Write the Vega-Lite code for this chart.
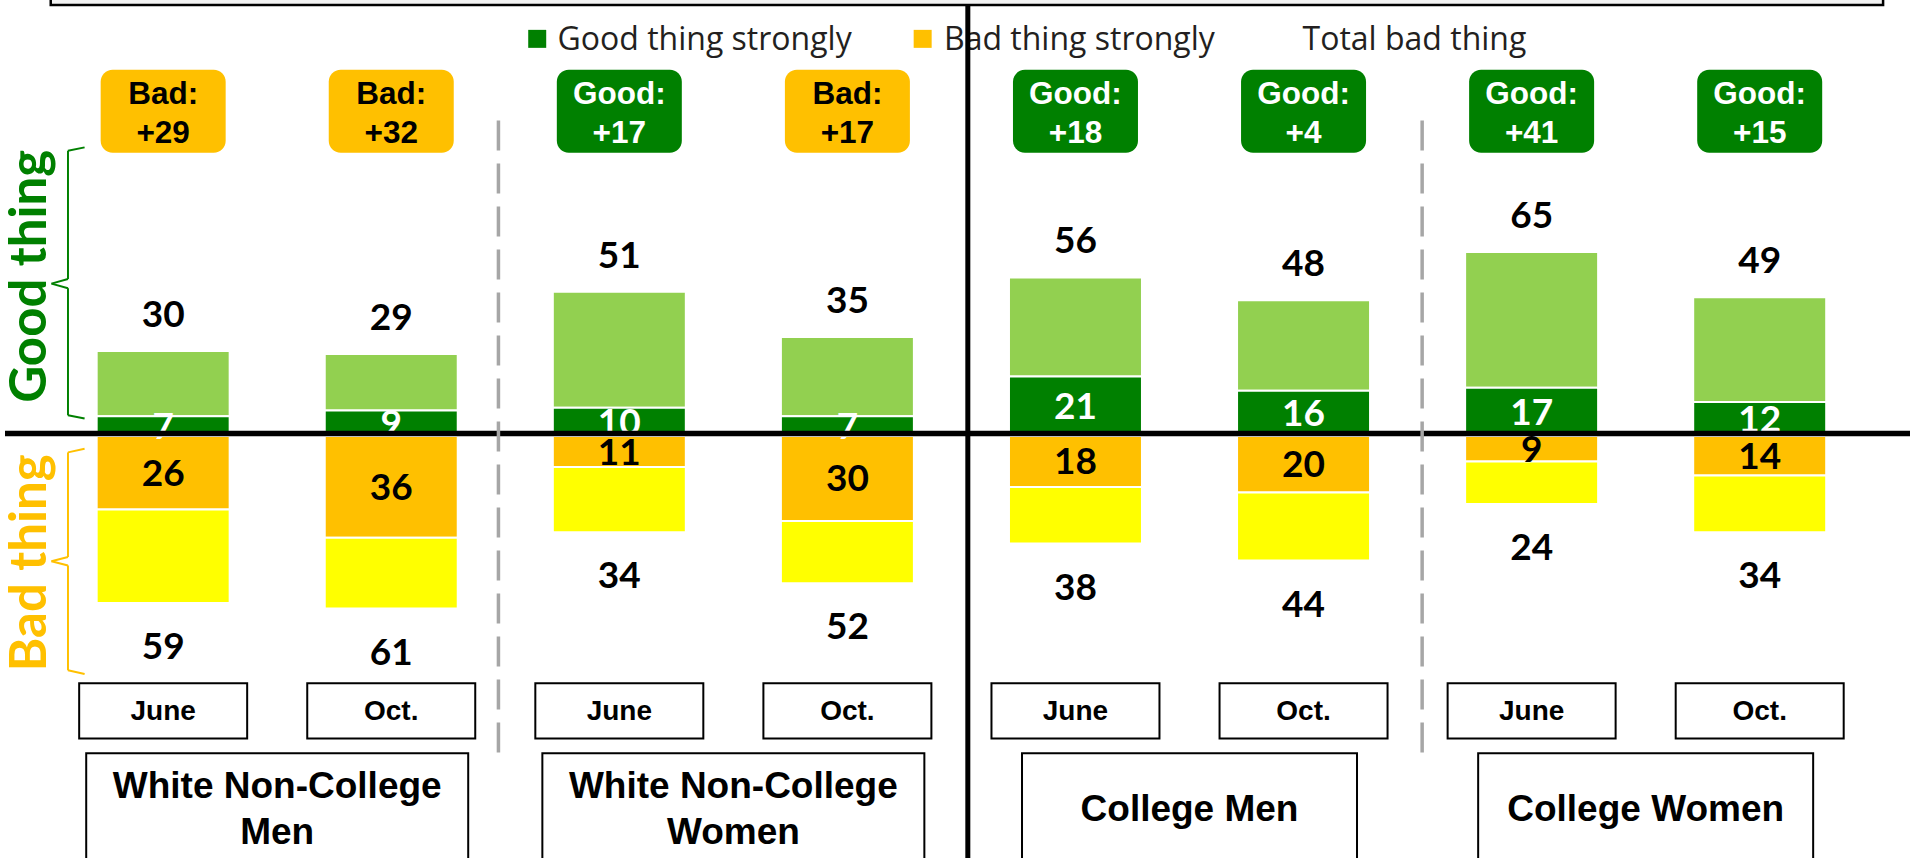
{
"$schema":"https://vega.github.io/schema/vega-lite/v6.json",
"width":1915,"height":861,"padding":0,
"autosize":{"type":"fit","contains":"padding"},
"background":"white",
"config":{"view":{"stroke":null}},
"datasets":{
"bars":[
{"group":"White Non-College\nMen","period":"June","slot":1,"good":30,"goodStrong":7,"bad":59,"badStrong":26,"netSide":"Bad","net":"+29"},
{"group":"White Non-College\nMen","period":"Oct.","slot":2,"good":29,"goodStrong":9,"bad":61,"badStrong":36,"netSide":"Bad","net":"+32"},
{"group":"White Non-College\nWomen","period":"June","slot":3,"good":51,"goodStrong":10,"bad":34,"badStrong":11,"netSide":"Good","net":"+17"},
{"group":"White Non-College\nWomen","period":"Oct.","slot":4,"good":35,"goodStrong":7,"bad":52,"badStrong":30,"netSide":"Bad","net":"+17"},
{"group":"College Men","period":"June","slot":5,"good":56,"goodStrong":21,"bad":38,"badStrong":18,"netSide":"Good","net":"+18"},
{"group":"College Men","period":"Oct.","slot":6,"good":48,"goodStrong":16,"bad":44,"badStrong":20,"netSide":"Good","net":"+4"},
{"group":"College Women","period":"June","slot":7,"good":65,"goodStrong":17,"bad":24,"badStrong":9,"netSide":"Good","net":"+41"},
{"group":"College Women","period":"Oct.","slot":8,"good":49,"goodStrong":12,"bad":34,"badStrong":14,"netSide":"Good","net":"+15"}
],
"frame":[{"part":"decoration"}]
},
"layer":[
{"data":{"name":"frame"},"mark":{"type":"rect","fill":"#F2F2F2","stroke":"black","strokeWidth":2.5,"clip":true},
 "encoding":{"x":{"datum":0.507,"type":"quantitative","scale":{"domain":[0.3065,8.659],"nice":false,"zero":false},"axis":null},"x2":{"datum":8.541},
 "y":{"datum":152.29,"type":"quantitative","scale":{"domain":[-149.12,154.05],"nice":false,"zero":false},"axis":null},"y2":{"datum":160}}},
{"data":{"name":"bars"},
 "transform":[
  {"calculate":"-datum.bad","as":"negBad"},
  {"calculate":"-datum.badStrong","as":"negBadStrong"},
  {"calculate":"datum.goodStrong/2","as":"gsMid"},
  {"calculate":"-datum.badStrong/2","as":"bsMid"},
  {"calculate":"datum.netSide + ':'","as":"badgeTop"}
 ],
 "encoding":{"x":{"field":"slot","type":"quantitative","scale":{"domain":[0.3065,8.659],"nice":false,"zero":false},"axis":null}},
 "layer":[
  {"mark":{"type":"bar","width":133,"fill":"#92D050","stroke":"white","strokeWidth":2},
   "encoding":{"y":{"field":"goodStrong","type":"quantitative","scale":{"domain":[-149.12,154.05],"nice":false,"zero":false},"axis":null},"y2":{"field":"good"}}},
  {"mark":{"type":"bar","width":133,"fill":"#008000","stroke":"white","strokeWidth":2},
   "encoding":{"y":{"field":"goodStrong","type":"quantitative","scale":{"domain":[-149.12,154.05],"nice":false,"zero":false},"axis":null},"y2":{"datum":0}}},
  {"mark":{"type":"bar","width":133,"fill":"#FFC000","stroke":"white","strokeWidth":2},
   "encoding":{"y":{"field":"negBadStrong","type":"quantitative","scale":{"domain":[-149.12,154.05],"nice":false,"zero":false},"axis":null},"y2":{"datum":0}}},
  {"mark":{"type":"bar","width":133,"fill":"#FFFF00","stroke":"white","strokeWidth":2},
   "encoding":{"y":{"field":"negBad","type":"quantitative","scale":{"domain":[-149.12,154.05],"nice":false,"zero":false},"axis":null},"y2":{"field":"negBadStrong"}}},
  {"mark":{"type":"text","font":"Lato","fontWeight":"bold","fontSize":37,"baseline":"middle","align":"center","fill":"black","dy":-35},
   "encoding":{"y":{"field":"good","type":"quantitative","scale":{"domain":[-149.12,154.05],"nice":false,"zero":false},"axis":null},"text":{"field":"good","type":"quantitative"}}},
  {"mark":{"type":"text","font":"Lato","fontWeight":"bold","fontSize":37,"baseline":"middle","align":"center","fill":"black","dy":45},
   "encoding":{"y":{"field":"negBad","type":"quantitative","scale":{"domain":[-149.12,154.05],"nice":false,"zero":false},"axis":null},"text":{"field":"bad","type":"quantitative"}}},
  {"mark":{"type":"text","font":"Lato","fontWeight":"bold","fontSize":37,"baseline":"middle","align":"center","fill":"white","dy":2},
   "encoding":{"y":{"field":"gsMid","type":"quantitative","scale":{"domain":[-149.12,154.05],"nice":false,"zero":false},"axis":null},"text":{"field":"goodStrong","type":"quantitative"}}},
  {"mark":{"type":"text","font":"Lato","fontWeight":"bold","fontSize":37,"baseline":"middle","align":"center","fill":"black","dy":2},
   "encoding":{"y":{"field":"bsMid","type":"quantitative","scale":{"domain":[-149.12,154.05],"nice":false,"zero":false},"axis":null},"text":{"field":"badStrong","type":"quantitative"}}},
  {"mark":{"type":"bar","width":125,"cornerRadius":12},
   "encoding":{"y":{"datum":129.4,"type":"quantitative","scale":{"domain":[-149.12,154.05],"nice":false,"zero":false},"axis":null},"y2":{"datum":100.07},
    "color":{"condition":{"test":"datum.netSide==='Good'","value":"#008000"},"value":"#FFC000"}}},
  {"mark":{"type":"text","font":"Liberation Sans","fontWeight":"bold","fontSize":31.5,"baseline":"middle","align":"center"},
   "encoding":{"y":{"datum":120.6,"type":"quantitative","scale":{"domain":[-149.12,154.05],"nice":false,"zero":false},"axis":null},"text":{"field":"badgeTop"},
    "color":{"condition":{"test":"datum.netSide==='Good'","value":"#FFFFFF"},"value":"#000000"}}},
  {"mark":{"type":"text","font":"Liberation Sans","fontWeight":"bold","fontSize":31.5,"baseline":"middle","align":"center"},
   "encoding":{"y":{"datum":106.7,"type":"quantitative","scale":{"domain":[-149.12,154.05],"nice":false,"zero":false},"axis":null},"text":{"field":"net"},
    "color":{"condition":{"test":"datum.netSide==='Good'","value":"#FFFFFF"},"value":"#000000"}}},
  {"mark":{"type":"bar","width":168,"fill":"white","stroke":"black","strokeWidth":2},
   "encoding":{"y":{"datum":-87.39,"type":"quantitative","scale":{"domain":[-149.12,154.05],"nice":false,"zero":false},"axis":null},"y2":{"datum":-106.87}}},
  {"mark":{"type":"text","font":"Liberation Sans","fontWeight":"bold","fontSize":28,"baseline":"middle","align":"center","fill":"black"},
   "encoding":{"y":{"datum":-97.7,"type":"quantitative","scale":{"domain":[-149.12,154.05],"nice":false,"zero":false},"axis":null},"text":{"field":"period"}}}
 ]},
{"data":{"name":"bars"},
 "transform":[{"aggregate":[{"op":"mean","field":"slot","as":"center"}],"groupby":["group"]}],
 "encoding":{"x":{"field":"center","type":"quantitative","scale":{"domain":[0.3065,8.659],"nice":false,"zero":false},"axis":null}},
 "layer":[
  {"transform":[{"filter":"indexof(datum.group,'White')===0"}],
   "mark":{"type":"bar","width":382,"fill":"white","stroke":"black","strokeWidth":2,"clip":true},
   "encoding":{"y":{"datum":-112.14,"type":"quantitative","scale":{"domain":[-149.12,154.05],"nice":false,"zero":false},"axis":null},"y2":{"datum":-160}}},
  {"transform":[{"filter":"indexof(datum.group,'White')!==0"}],
   "mark":{"type":"bar","width":335,"fill":"white","stroke":"black","strokeWidth":2,"clip":true},
   "encoding":{"y":{"datum":-112.14,"type":"quantitative","scale":{"domain":[-149.12,154.05],"nice":false,"zero":false},"axis":null},"y2":{"datum":-160}}},
  {"transform":[{"filter":"indexof(datum.group,'\\n')>=0"}],
   "mark":{"type":"text","font":"Liberation Sans","fontWeight":"bold","fontSize":37,"lineBreak":"\n","lineHeight":45.5,"baseline":"middle","align":"center","fill":"black"},
   "encoding":{"y":{"datum":-124.1,"type":"quantitative","scale":{"domain":[-149.12,154.05],"nice":false,"zero":false},"axis":null},"text":{"field":"group"}}},
  {"transform":[{"filter":"indexof(datum.group,'\\n')<0"}],
   "mark":{"type":"text","font":"Liberation Sans","fontWeight":"bold","fontSize":37,"baseline":"middle","align":"center","fill":"black"},
   "encoding":{"y":{"datum":-132.2,"type":"quantitative","scale":{"domain":[-149.12,154.05],"nice":false,"zero":false},"axis":null},"text":{"field":"group"}}}
 ]},
{"data":{"name":"frame"},
 "encoding":{"x":{"datum":0.3065,"type":"quantitative","scale":{"domain":[0.3065,8.659],"nice":false,"zero":false},"axis":null}},
 "layer":[
  {"mark":{"type":"text","text":"Good thing","font":"Lato","fontWeight":"bold","fontSize":51,"angle":270,"baseline":"middle","align":"center","fill":"#008000"},
   "encoding":{"x":{"datum":0.4216,"type":"quantitative"},"y":{"datum":56.4,"type":"quantitative","scale":{"domain":[-149.12,154.05],"nice":false,"zero":false},"axis":null}}},
  {"mark":{"type":"text","text":"Bad thing","font":"Lato","fontWeight":"bold","fontSize":51,"angle":270,"baseline":"middle","align":"center","fill":"#FFC000"},
   "encoding":{"x":{"datum":0.4216,"type":"quantitative"},"y":{"datum":-44.8,"type":"quantitative","scale":{"domain":[-149.12,154.05],"nice":false,"zero":false},"axis":null}}},
  {"mark":{"type":"rule","stroke":"#008000","strokeWidth":2},"encoding":{"x":{"datum":0.6555,"type":"quantitative"},"x2":{"datum":0.5826},"y":{"datum":101.97,"type":"quantitative","scale":{"domain":[-149.12,154.05],"nice":false,"zero":false},"axis":null},"y2":{"datum":100.8}}},
  {"mark":{"type":"rule","stroke":"#008000","strokeWidth":2},"encoding":{"x":{"datum":0.5826,"type":"quantitative"},"x2":{"datum":0.5826},"y":{"datum":100.8,"type":"quantitative","scale":{"domain":[-149.12,154.05],"nice":false,"zero":false},"axis":null},"y2":{"datum":55.46}}},
  {"mark":{"type":"rule","stroke":"#008000","strokeWidth":2},"encoding":{"x":{"datum":0.5826,"type":"quantitative"},"x2":{"datum":0.5102},"y":{"datum":55.46,"type":"quantitative","scale":{"domain":[-149.12,154.05],"nice":false,"zero":false},"axis":null},"y2":{"datum":53.84}}},
  {"mark":{"type":"rule","stroke":"#008000","strokeWidth":2},"encoding":{"x":{"datum":0.5102,"type":"quantitative"},"x2":{"datum":0.5826},"y":{"datum":53.84,"type":"quantitative","scale":{"domain":[-149.12,154.05],"nice":false,"zero":false},"axis":null},"y2":{"datum":52.22}}},
  {"mark":{"type":"rule","stroke":"#008000","strokeWidth":2},"encoding":{"x":{"datum":0.5826,"type":"quantitative"},"x2":{"datum":0.5826},"y":{"datum":52.22,"type":"quantitative","scale":{"domain":[-149.12,154.05],"nice":false,"zero":false},"axis":null},"y2":{"datum":7.3}}},
  {"mark":{"type":"rule","stroke":"#008000","strokeWidth":2},"encoding":{"x":{"datum":0.5826,"type":"quantitative"},"x2":{"datum":0.6555},"y":{"datum":7.3,"type":"quantitative","scale":{"domain":[-149.12,154.05],"nice":false,"zero":false},"axis":null},"y2":{"datum":6.16}}},
  {"mark":{"type":"rule","stroke":"#FFC000","strokeWidth":2},"encoding":{"x":{"datum":0.6555,"type":"quantitative"},"x2":{"datum":0.5826},"y":{"datum":-4.54,"type":"quantitative","scale":{"domain":[-149.12,154.05],"nice":false,"zero":false},"axis":null},"y2":{"datum":-5.8}}},
  {"mark":{"type":"rule","stroke":"#FFC000","strokeWidth":2},"encoding":{"x":{"datum":0.5826,"type":"quantitative"},"x2":{"datum":0.5826},"y":{"datum":-5.8,"type":"quantitative","scale":{"domain":[-149.12,154.05],"nice":false,"zero":false},"axis":null},"y2":{"datum":-42.78}}},
  {"mark":{"type":"rule","stroke":"#FFC000","strokeWidth":2},"encoding":{"x":{"datum":0.5826,"type":"quantitative"},"x2":{"datum":0.5102},"y":{"datum":-42.78,"type":"quantitative","scale":{"domain":[-149.12,154.05],"nice":false,"zero":false},"axis":null},"y2":{"datum":-44.26}}},
  {"mark":{"type":"rule","stroke":"#FFC000","strokeWidth":2},"encoding":{"x":{"datum":0.5102,"type":"quantitative"},"x2":{"datum":0.5826},"y":{"datum":-44.26,"type":"quantitative","scale":{"domain":[-149.12,154.05],"nice":false,"zero":false},"axis":null},"y2":{"datum":-45.74}}},
  {"mark":{"type":"rule","stroke":"#FFC000","strokeWidth":2},"encoding":{"x":{"datum":0.5826,"type":"quantitative"},"x2":{"datum":0.5826},"y":{"datum":-45.74,"type":"quantitative","scale":{"domain":[-149.12,154.05],"nice":false,"zero":false},"axis":null},"y2":{"datum":-82.8}}},
  {"mark":{"type":"rule","stroke":"#FFC000","strokeWidth":2},"encoding":{"x":{"datum":0.5826,"type":"quantitative"},"x2":{"datum":0.6555},"y":{"datum":-82.8,"type":"quantitative","scale":{"domain":[-149.12,154.05],"nice":false,"zero":false},"axis":null},"y2":{"datum":-84.12}}},
  {"mark":{"type":"point","shape":"square","size":324,"filled":true,"fill":"#008000","opacity":1,"strokeWidth":0},
   "encoding":{"x":{"datum":2.640,"type":"quantitative"},"y":{"datum":140.32,"type":"quantitative","scale":{"domain":[-149.12,154.05],"nice":false,"zero":false},"axis":null}}},
  {"mark":{"type":"point","shape":"square","size":324,"filled":true,"fill":"#FFC000","opacity":1,"strokeWidth":0},
   "encoding":{"x":{"datum":4.330,"type":"quantitative"},"y":{"datum":140.32,"type":"quantitative","scale":{"domain":[-149.12,154.05],"nice":false,"zero":false},"axis":null}}},
  {"mark":{"type":"text","text":"Good thing strongly","font":"Open Sans","fontSize":32,"baseline":"middle","align":"left","fill":"#231F20"},
   "encoding":{"x":{"datum":2.729,"type":"quantitative"},"y":{"datum":139.93,"type":"quantitative","scale":{"domain":[-149.12,154.05],"nice":false,"zero":false},"axis":null}}},
  {"mark":{"type":"text","text":"Bad thing strongly","font":"Open Sans","fontSize":32,"baseline":"middle","align":"left","fill":"#231F20"},
   "encoding":{"x":{"datum":4.4235,"type":"quantitative"},"y":{"datum":139.93,"type":"quantitative","scale":{"domain":[-149.12,154.05],"nice":false,"zero":false},"axis":null}}},
  {"mark":{"type":"text","text":"Total bad thing","font":"Open Sans","fontSize":32,"baseline":"middle","align":"left","fill":"#231F20"},
   "encoding":{"x":{"datum":5.9955,"type":"quantitative"},"y":{"datum":139.93,"type":"quantitative","scale":{"domain":[-149.12,154.05],"nice":false,"zero":false},"axis":null}}},
  {"mark":{"type":"rule","stroke":"black","strokeWidth":5.4},
   "encoding":{"x":{"datum":0.3065,"type":"quantitative"},"x2":{"datum":8.659},"y":{"datum":0.88,"type":"quantitative","scale":{"domain":[-149.12,154.05],"nice":false,"zero":false},"axis":null}}},
  {"mark":{"type":"rule","stroke":"#A6A6A6","strokeWidth":3.5,"strokeDash":[30,13]},
   "encoding":{"x":{"datum":2.47,"type":"quantitative"},"y":{"datum":111.44,"type":"quantitative","scale":{"domain":[-149.12,154.05],"nice":false,"zero":false},"axis":null},"y2":{"datum":-112.14}}},
  {"mark":{"type":"rule","stroke":"#A6A6A6","strokeWidth":3.5,"strokeDash":[30,13]},
   "encoding":{"x":{"datum":6.52,"type":"quantitative"},"y":{"datum":111.44,"type":"quantitative","scale":{"domain":[-149.12,154.05],"nice":false,"zero":false},"axis":null},"y2":{"datum":-112.14}}},
  {"mark":{"type":"rule","stroke":"black","strokeWidth":5},
   "encoding":{"x":{"datum":4.528,"type":"quantitative"},"y":{"datum":152.3,"type":"quantitative","scale":{"domain":[-149.12,154.05],"nice":false,"zero":false},"axis":null},"y2":{"datum":-149.12}}}
 ]}
]
}
